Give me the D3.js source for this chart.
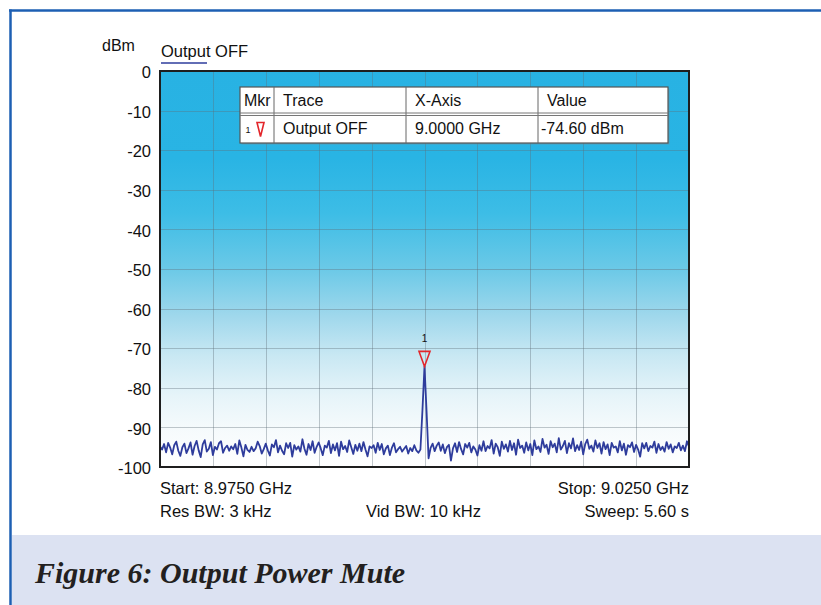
<!doctype html>
<html>
<head>
<meta charset="utf-8">
<style>
    body { margin: 0; background: #fff; }
    svg { display: block; }
    text { font-family: "Liberation Sans", Arial, sans-serif; fill: #111; }
    .grid line { stroke: #5f6f78; stroke-opacity: 0.38; stroke-width: 1; shape-rendering: crispEdges; }
    .caption { font-family: "Liberation Serif", "Times New Roman", serif; font-style: italic; font-weight: bold; fill: #231f20; }
</style>
<script src="https://d3js.org/d3.v7.min.js"></script>
</head>
<body>
<script>
    // axis / annotation data
    const yTicks = [0, -10, -20, -30, -40, -50, -60, -70, -80, -90, -100];
    const freqStart = 8.975, freqStop = 9.025;
    const xDivisions = 10;
    const traceName = 'Output OFF';
    const tableHeader = ['Mkr', 'Trace', 'X-Axis', 'Value'];
    const tableRow = ['1', 'Output OFF', '9.0000 GHz', '-74.60 dBm'];
    const footerLeft = ['Start: 8.9750 GHz', 'Res BW: 3 kHz'];
    const footerMid = ['', 'Vid BW: 10 kHz'];
    const footerRight = ['Stop: 9.0250 GHz', 'Sweep: 5.60 s'];
    const marker = {freq: 9.0, value: -74.6, label: '1'};

    // trace (dBm), left half / peak / right half
    const noiseLeft = [
        -94.8, -95.6, -94.2, -96.3, -93.9, -95.1, -96.8, -94.5, -93.6, -95.9, -97.2, -95.0, -94.1, -96.5, -95.3, -93.8, -96.9, -94.7, -93.4, -95.8,
        -97.5, -94.3, -93.2, -96.1, -95.4, -93.7, -97.0, -94.9, -95.6, -94.0, -93.5, -96.4, -95.2, -94.6, -95.9, -94.8, -95.5, -94.2, -96.7, -93.3,
        -95.1, -97.3, -94.4, -95.7, -96.2, -94.9, -96.0, -95.3, -93.6, -94.7, -96.6, -95.5, -94.1, -95.8, -97.1, -94.3, -95.0, -93.2, -96.3, -94.6,
        -95.9, -96.8, -94.0, -95.2, -93.9, -97.4, -94.5, -95.6, -94.8, -96.1, -93.0, -95.4, -96.9, -94.2, -95.7, -93.5, -96.4, -94.9, -93.8, -95.3,
        -97.0, -94.6, -95.1, -93.4, -96.5, -94.3, -95.8, -94.0, -97.2, -93.6, -95.5, -94.7, -96.2, -93.3, -95.0, -96.7, -94.4, -95.9, -94.1, -96.0,
        -93.7, -95.6, -97.3, -94.8, -95.2, -94.5, -96.4, -93.9, -95.7, -94.2, -96.8, -95.3, -94.6, -97.0, -95.1, -94.0, -96.3, -95.5, -94.9, -96.1,
        -95.4, -94.7, -96.6, -95.2, -96.0, -94.5, -95.8, -96.4, -95.6
    ];
    const peakValues = [-85.6, -74.6, -85.8];
    const noiseRight = [
        -97.8, -95.2, -94.1, -96.0, -94.6, -93.8, -95.9, -94.3, -96.5, -95.0, -94.4, -98.4, -95.3, -94.0, -96.2, -93.7, -95.5, -96.8, -94.2, -95.1,
        -93.9, -96.3, -94.8, -95.6, -97.1, -94.5, -95.9, -93.5, -96.0, -94.7, -95.3, -93.2, -96.6, -94.1, -95.0, -97.2, -93.6, -95.4, -94.3, -96.1,
        -93.4, -95.7, -94.0, -96.9, -93.1, -95.2, -94.6, -96.4, -93.8, -95.8, -94.2, -97.0, -93.3, -95.5, -94.8, -96.2, -92.9, -95.1, -94.4, -96.7,
        -93.5, -95.0, -94.1, -96.3, -92.7, -95.6, -94.7, -93.4, -96.5, -94.0, -95.3, -92.8, -96.0, -94.5, -95.7, -93.6, -96.8, -94.2, -93.1, -95.4,
        -94.6, -96.1, -93.3, -95.2, -94.0, -96.6, -93.7, -95.5, -94.3, -97.0, -93.9, -95.1, -94.8, -96.3, -93.5, -95.8, -94.1, -96.9, -94.5, -95.0,
        -93.8, -96.2, -94.4, -95.6, -97.4, -94.0, -95.3, -93.9, -96.0, -94.7, -95.1, -93.6, -96.4, -94.2, -95.7, -94.9, -96.1, -93.7, -95.4, -94.3,
        -96.3, -94.8, -95.2, -93.9, -95.8, -94.6, -96.0, -93.5, -94.9
    ];
    const trace = noiseLeft.concat(peakValues, noiseRight);

    const W = 821, H = 605;
    const plot = {left: 160, top: 71, right: 689, bottom: 467};

    const svg = d3.select('body').append('svg')
        .attr('width', W)
        .attr('height', H);

    // page frame + caption band
    svg.append('rect').attr('x', 12).attr('y', 535).attr('width', W - 12).attr('height', H - 535).attr('fill', '#dce2f2');
    svg.append('line').attr('x1', 9).attr('x2', W).attr('y1', 10.5).attr('y2', 10.5)
        .attr('stroke', '#1d5fb3').attr('stroke-width', 2.5);
    svg.append('line').attr('x1', 10.5).attr('x2', 10.5).attr('y1', 9.5).attr('y2', H)
        .attr('stroke', '#1d5fb3').attr('stroke-width', 2.5);

    svg.append('text').attr('class', 'caption')
        .attr('x', 35).attr('y', 583)
        .style('font-size', '30px')
        .text('Figure 6: Output Power Mute');

    const x = d3.scaleLinear().domain([freqStart, freqStop]).range([plot.left, plot.right]);
    const y = d3.scaleLinear().domain([0, -100]).range([plot.top, plot.bottom]);
    const idx = d3.scaleLinear().domain([0, trace.length - 1]).range([freqStart, freqStop]);

    // background gradient
    const defs = svg.append('defs');
    const grad = defs.append('linearGradient').attr('id', 'bg')
        .attr('x1', 0).attr('y1', 0).attr('x2', 0).attr('y2', 1);
    [[0, '#28b2e3'], [0.22, '#29b4e4'], [0.36, '#3dbde6'], [0.5, '#6bc9e7'],
        [0.62, '#a0d8ec'], [0.72, '#c9e8f3'], [0.82, '#e6f4f9'], [0.9, '#f5fafc'], [1, '#ffffff']]
        .forEach(s => grad.append('stop').attr('offset', s[0]).attr('stop-color', s[1]));

    svg.append('rect')
        .attr('x', plot.left).attr('y', plot.top)
        .attr('width', plot.right - plot.left).attr('height', plot.bottom - plot.top)
        .attr('fill', 'url(#bg)');

    // grid
    const xGrid = d3.range(1, xDivisions).map(i => freqStart + i * (freqStop - freqStart) / xDivisions);
    const gridG = svg.append('g').attr('class', 'grid');
    gridG.selectAll('line.v').data(xGrid).enter().append('line')
        .attr('x1', d => Math.round(x(d)) + 0.5).attr('x2', d => Math.round(x(d)) + 0.5)
        .attr('y1', plot.top).attr('y2', plot.bottom);
    gridG.selectAll('line.h').data(yTicks.slice(1, -1)).enter().append('line')
        .attr('y1', d => Math.round(y(d)) + 0.5).attr('y2', d => Math.round(y(d)) + 0.5)
        .attr('x1', plot.left).attr('x2', plot.right);

    // y axis labels (plain hyphen, like the analyzer print)
    const yAxis = d3.axisLeft(y).tickValues(yTicks).tickSize(0).tickPadding(9)
        .tickFormat(d => String(d));
    const yG = svg.append('g').attr('transform', `translate(${plot.left},1.5)`).call(yAxis);
    yG.select('.domain').remove();
    yG.selectAll('text')
        .style('font-family', '"Liberation Sans", Arial, sans-serif')
        .style('font-size', '16.5px').attr('fill', '#111');

    // trace
    const line = d3.line()
        .x((d, i) => x(idx(i)))
        .y(d => y(d));
    svg.append('path').datum(trace)
        .attr('d', line)
        .attr('fill', 'none')
        .attr('stroke', '#2e3c9c')
        .attr('stroke-width', 1.8)
        .attr('stroke-linejoin', 'round');

    // plot border
    svg.append('rect')
        .attr('x', plot.left).attr('y', plot.top)
        .attr('width', plot.right - plot.left).attr('height', plot.bottom - plot.top)
        .attr('fill', 'none').attr('stroke', '#1e1e1e').attr('stroke-width', 2);

    // marker on trace
    const mx = x(marker.freq), my = y(marker.value);
    svg.append('path')
        .attr('d', `M${mx - 5.5},${my - 15}L${mx + 5.5},${my - 15}L${mx},${my}Z`)
        .attr('fill', 'none').attr('stroke', '#e3262b').attr('stroke-width', 1.6);
    svg.append('text').attr('x', mx).attr('y', my - 24)
        .attr('text-anchor', 'middle').style('font-size', '10px').attr('fill', '#c8262b')
        .text(marker.label);

    // legend labels
    svg.append('text').attr('x', 102).attr('y', 51).style('font-size', '16px').text('dBm');
    svg.append('text').attr('x', 161).attr('y', 57).style('font-size', '16.5px').text(traceName);
    svg.append('line').attr('x1', 161).attr('x2', 207).attr('y1', 63).attr('y2', 63)
        .attr('stroke', '#2e3c9c').attr('stroke-width', 1.5);

    // marker table
    const tb = {left: 240, top: 87, right: 668, mid: 113, bottom: 143};
    const colX = [tb.left, 274, 406, 538];
    const tG = svg.append('g');
    tG.append('rect').attr('x', tb.left + 1.5).attr('y', tb.top + 1.5)
        .attr('width', tb.right - tb.left).attr('height', tb.bottom - tb.top)
        .attr('fill', '#7a8a92').attr('opacity', 0.5);
    tG.append('rect').attr('x', tb.left).attr('y', tb.top)
        .attr('width', tb.right - tb.left).attr('height', tb.bottom - tb.top)
        .attr('fill', '#fff').attr('stroke', '#555').attr('stroke-width', 1.2);
    colX.slice(1).forEach(cx => tG.append('line')
        .attr('x1', cx).attr('x2', cx).attr('y1', tb.top).attr('y2', tb.bottom)
        .attr('stroke', '#666').attr('stroke-width', 1));
    [tb.mid, tb.mid + 2.5].forEach(ly => tG.append('line')
        .attr('x1', tb.left).attr('x2', tb.right).attr('y1', ly).attr('y2', ly)
        .attr('stroke', '#777').attr('stroke-width', 1));
    const headX = [244, 283, 415, 547];
    const rowX = [null, 283, 415, 541];
    tableHeader.forEach((t, i) => tG.append('text').attr('x', headX[i]).attr('y', 106)
        .style('font-size', '16px').text(t));
    tableRow.forEach((t, i) => {
        if (i === 0) return;
        tG.append('text').attr('x', rowX[i]).attr('y', 134).style('font-size', '16px').text(t);
    });
    tG.append('text').attr('x', 248).attr('y', 133).attr('text-anchor', 'middle')
        .style('font-size', '9px').attr('fill', '#d6262b').text(tableRow[0]);
    tG.append('path').attr('d', 'M257,122.5L264,122.5L260.5,136.5Z')
        .attr('fill', 'none').attr('stroke', '#e3262b').attr('stroke-width', 1.6);

    // footer text
    const footY = [494, 517];
    footY.forEach((fy, i) => {
        svg.append('text').attr('x', plot.left).attr('y', fy).style('font-size', '16.5px').text(footerLeft[i]);
        svg.append('text').attr('x', 366).attr('y', fy).style('font-size', '16.5px').text(footerMid[i]);
        svg.append('text').attr('x', plot.right).attr('y', fy).attr('text-anchor', 'end')
            .style('font-size', '16.5px').text(footerRight[i]);
    });
</script>
</body>
</html>
